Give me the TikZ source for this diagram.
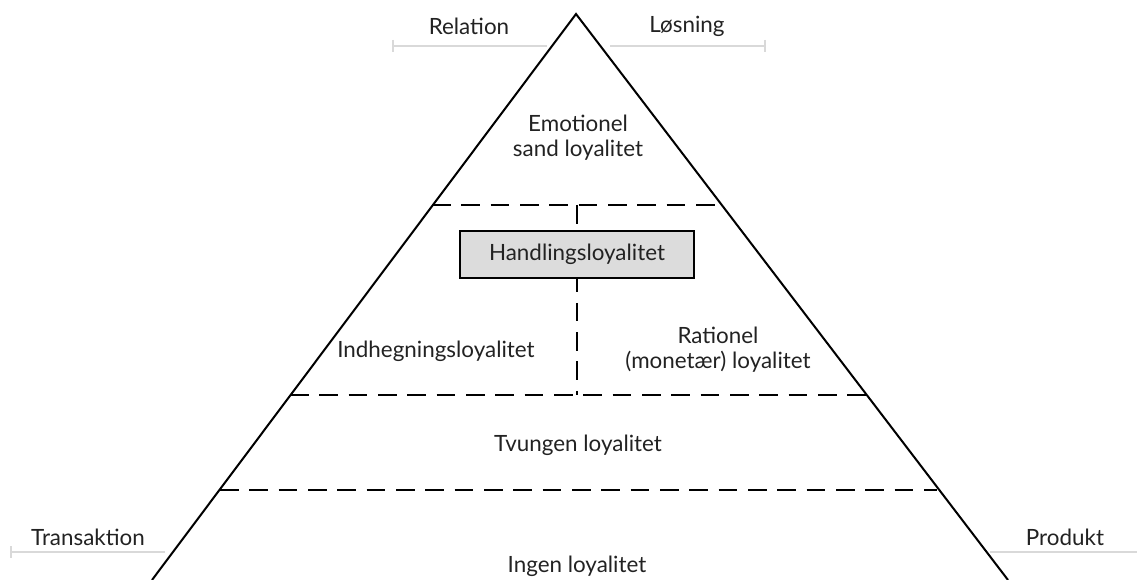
\documentclass[tikz,border=0pt]{standalone}
\usepackage{fontspec}
\setmainfont{Lato}
\usetikzlibrary{positioning}

\definecolor{scalegray}{RGB}{217,217,217}
\definecolor{boxgray}{RGB}{220,220,220}
\definecolor{txtgray}{RGB}{34,34,34}

\tikzset{
  pyrline/.style={color=black, line width=1.5pt},
  levelline/.style={color=black, line width=1.5pt, dash pattern=on 14pt off 8pt},
  scaleline/.style={color=scalegray, line width=1.5pt},
  lbl/.style={inner sep=0.75pt, align=center, text=txtgray, font=\fontsize{16.8}{19}\selectfont},
}

\begin{document}
\begin{tikzpicture}[x=0.75pt,y=0.75pt,yscale=-1,xscale=1]
\path [use as bounding box] (0,0) rectangle (1137,580);

%Pyramid sides
\coordinate (top) at (576,14);
\coordinate (botleft) at (152,580);
\coordinate (botright) at (1008,580);
\draw [pyrline] (botleft) -- (top) -- (botright) ;

%Dashed levels
\draw [levelline] (432,205) -- (722,205) ;
\draw [levelline] (290,395) -- (867,395) ;
\draw [levelline] (220,490) -- (937,490) ;

%Box
\node [draw, line width=1.5pt, fill=boxgray, minimum width=176pt, minimum height=35pt, inner sep=0pt, text=txtgray, font=\fontsize{16.8}{19}\selectfont] (handling) at (577,254.5) {Handlingsloyalitet};
\coordinate (mida) at (577,205);
\coordinate (midb) at (577,395);
\draw [levelline] (mida) -- (handling.north) ;
\draw [levelline, dash phase=4pt] (handling.south) -- (midb) ;

%Scales
\draw [scaleline] (393,40) -- (393,52) (393,46) -- (547,46) ;
\draw [scaleline] (610,46) -- (765,46) (765,40) -- (765,52) ;
\draw [scaleline] (11,546) -- (11,558) (11,552) -- (165,552) ;
\draw [scaleline] (990,552) -- (1137,552) ;

% Text Node
\node [lbl] (relation) at (469,26) {Relation};
\node [lbl] (losning) at (687,26) {Løsning};
\node [lbl] (transaktion) at (88,537) {Transaktion};
\node [lbl] (produkt) at (1065,537) {Produkt};
\node [lbl] (emotionel) at (578,138) {Emotionel\\sand loyalitet};
\node [lbl] (indhegning) at (436,351) {Indhegningsloyalitet};
\node [lbl] (rationel) at (718,350) {Rationel\\(monetær) loyalitet};
\node [lbl] (tvungen) at (578,445) {Tvungen loyalitet};
\node [lbl] (ingen) at (577,566) {Ingen loyalitet};

\end{tikzpicture}
\end{document}
